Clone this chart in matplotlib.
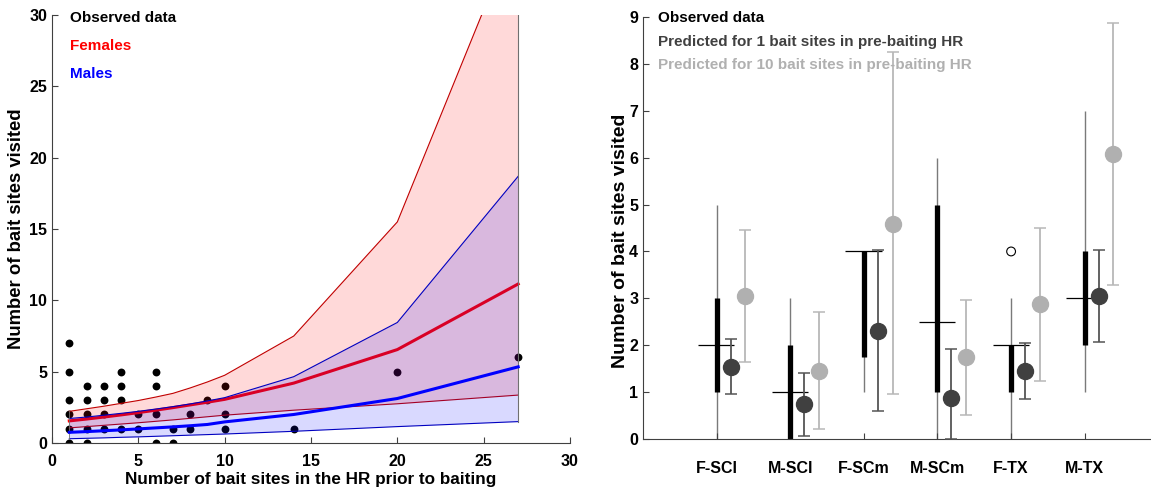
import numpy as np
import matplotlib
matplotlib.use("Agg")
from matplotlib import pyplot as plt

plt.rcParams['font.family'] = ['Liberation Sans', 'DejaVu Sans']
plt.rcParams['font.weight'] = 'bold'
plt.rcParams['axes.labelweight'] = 'bold'
plt.rcParams['font.size'] = 11

# ---- left panel data ----
obs_x = [1, 1, 1, 1, 1, 1,
         2, 2, 2, 2, 2,
         3, 3, 3, 3,
         4, 4, 4, 4,
         5, 5,
         6, 6, 6, 6,
         7, 7,
         8, 8,
         9,
         10, 10, 10,
         14, 20, 27]
obs_y = [0, 1, 2, 3, 5, 7,
         0, 1, 2, 3, 4,
         1, 2, 3, 4,
         1, 3, 4, 5,
         1, 2,
         0, 2, 4, 5,
         0, 1,
         1, 2,
         3,
         1, 2, 4,
         1, 5, 6]

pred_x = [1, 2, 3, 4, 5, 6, 7, 8, 9, 10, 14, 20, 27]
fem_mean = [1.55, 1.68, 1.82, 1.97, 2.13, 2.30, 2.48, 2.67, 2.86, 3.06, 4.2, 6.55, 11.15]
fem_lo = [1.06, 1.15, 1.24, 1.33, 1.42, 1.52, 1.62, 1.73, 1.84, 1.95, 2.3, 2.75, 3.36]
fem_hi = [2.22, 2.40, 2.58, 2.78, 2.98, 3.22, 3.48, 3.86, 4.28, 4.75, 7.5, 15.5, 36.3]
male_mean = [0.75, 0.80, 0.86, 0.92, 0.99, 1.06, 1.13, 1.21, 1.30, 1.48, 2.0, 3.12, 5.34]
male_lo = [0.30, 0.33, 0.36, 0.40, 0.43, 0.47, 0.51, 0.55, 0.59, 0.63, 0.82, 1.15, 1.5]
male_hi = [1.72, 1.82, 1.95, 2.08, 2.22, 2.38, 2.55, 2.74, 2.95, 3.18, 4.65, 8.45, 18.7]

# ---- right panel data ----
groups = ['F-SCl', 'M-SCl', 'F-SCm', 'M-SCm', 'F-TX', 'M-TX']
whisk_lo = [0, 0, 1, 0, 0, 1]
whisk_hi = [5, 3, 4, 6, 3, 7]
q1 = [1, 0, 1.75, 1, 1, 2]
q3 = [3, 2, 4, 5, 2, 4]
medians = [2, 1, 4, 2.5, 2, 3]
outlier_grp = [5]
outlier_val = [4]

p1_mean = [1.53, 0.74, 2.31, 0.88, 1.45, 3.06]
p1_lo = [0.95, 0.07, 0.59, 0.0, 0.85, 2.07]
p1_hi = [2.13, 1.40, 4.04, 1.93, 2.04, 4.04]
p10_mean = [3.05, 1.46, 4.59, 1.74, 2.88, 6.07]
p10_lo = [1.64, 0.22, 0.97, 0.52, 1.24, 3.28]
p10_hi = [4.45, 2.71, 8.26, 2.96, 4.51, 8.88]

fig = plt.figure(figsize=(11.51, 4.93), dpi=100)

# ---------- left ----------
ax1 = fig.add_axes([0.0452, 0.1014, 0.45, 0.868])
ax1.scatter(obs_x, obs_y, s=32, color='k', zorder=1, linewidths=0)
ax1.fill_between(pred_x, fem_lo, fem_hi, facecolor=(1, 0, 0), alpha=0.15,
                 edgecolor='none', zorder=2)
ax1.plot(pred_x, fem_hi, color='#c00000', lw=0.8, zorder=2)
ax1.plot(pred_x, fem_lo, color='#c00000', lw=0.8, zorder=2)
ax1.plot(pred_x, fem_mean, color='red', lw=2.2, zorder=2)
ax1.fill_between(pred_x, male_lo, male_hi, facecolor=(0, 0, 1), alpha=0.15,
                 edgecolor='none', zorder=3)
ax1.plot(pred_x, male_hi, color='#0000c0', lw=0.8, zorder=3)
ax1.plot(pred_x, male_lo, color='#0000c0', lw=0.8, zorder=3)
ax1.plot([27, 27], [male_lo[-1], 30], color='#707070', lw=0.8, zorder=3)
ax1.plot([1, 1], [male_lo[0], fem_hi[0]], color='#707070', lw=0.6, zorder=3)
ax1.plot(pred_x, male_mean, color='blue', lw=2.2, zorder=4)

ax1.set_xlim(0, 30)
ax1.set_ylim(0, 30)
ax1.set_xticks(range(0, 31, 5))
ax1.set_yticks(range(0, 31, 5))
ax1.set_xlabel('Number of bait sites in the HR prior to baiting', fontsize=12.3, labelpad=2)
ax1.set_ylabel('Number of bait sites visited', fontsize=13.3)
ax1.yaxis.set_label_coords(-0.052, 0.5)
ax1.text(0.035, 0.993, 'Observed data', color='k', transform=ax1.transAxes, va='center')
ax1.text(0.035, 0.928, 'Females', color='red', transform=ax1.transAxes, va='center')
ax1.text(0.035, 0.862, 'Males', color='blue', transform=ax1.transAxes, va='center')

# ---------- right ----------
ax2 = fig.add_axes([0.5586, 0.1095, 0.4414, 0.856])
xs = np.arange(1, len(groups) + 1)
ax2.vlines(xs, whisk_lo, whisk_hi, color='#7a7a7a', lw=1.0, zorder=1)
ax2.vlines(xs, q1, q3, color='k', lw=3.8, zorder=2)
ax2.hlines(medians, xs - 0.25, xs + 0.24, color='k', lw=0.9, zorder=2)
ax2.scatter(outlier_grp, outlier_val, s=40, facecolors='none', edgecolors='k',
            linewidths=0.8, zorder=2)

p1_err = [np.subtract(p1_mean, p1_lo), np.subtract(p1_hi, p1_mean)]
p10_err = [np.subtract(p10_mean, p10_lo), np.subtract(p10_hi, p10_mean)]
ax2.errorbar(xs + 0.19, p1_mean, yerr=p1_err, fmt='o', ms=11.5, color='#404040',
             ecolor='#555555', elinewidth=1.3, capsize=4, capthick=1.1, zorder=3)
ax2.errorbar(xs + 0.39, p10_mean, yerr=p10_err, fmt='o', ms=11.5, color='#b0b0b0',
             ecolor='#b8b8b8', elinewidth=1.3, capsize=4, capthick=1.1, zorder=3)

ax2.set_xlim(0, 6.9)
ax2.set_ylim(0, 9)
ax2.set_xticks(xs)
ax2.set_xticklabels(groups)
ax2.set_yticks(range(0, 10))
ax2.set_ylabel('Number of bait sites visited', fontsize=14)
ax2.yaxis.set_label_coords(-0.027, 0.47)
ax2.text(0.03, 0.997, 'Observed data', color='k', transform=ax2.transAxes, va='center')
ax2.text(0.03, 0.941, 'Predicted for 1 bait sites in pre-baiting HR', color='#404040',
         transform=ax2.transAxes, va='center')
ax2.text(0.03, 0.886, 'Predicted for 10 bait sites in pre-baiting HR', color='#b0b0b0',
         transform=ax2.transAxes, va='center')

for ax in (ax1, ax2):
    for s in ('top', 'right'):
        ax.spines[s].set_visible(False)
    for s in ('left', 'bottom'):
        ax.spines[s].set_color('#404040')
        ax.spines[s].set_linewidth(0.8)
    ax.tick_params(direction='in', length=4, width=0.8, color='#404040', labelsize=11.5)

ax1.tick_params(axis='x', pad=8)
ax2.tick_params(axis='x', pad=16)

fig.savefig('out.png', dpi=100)
